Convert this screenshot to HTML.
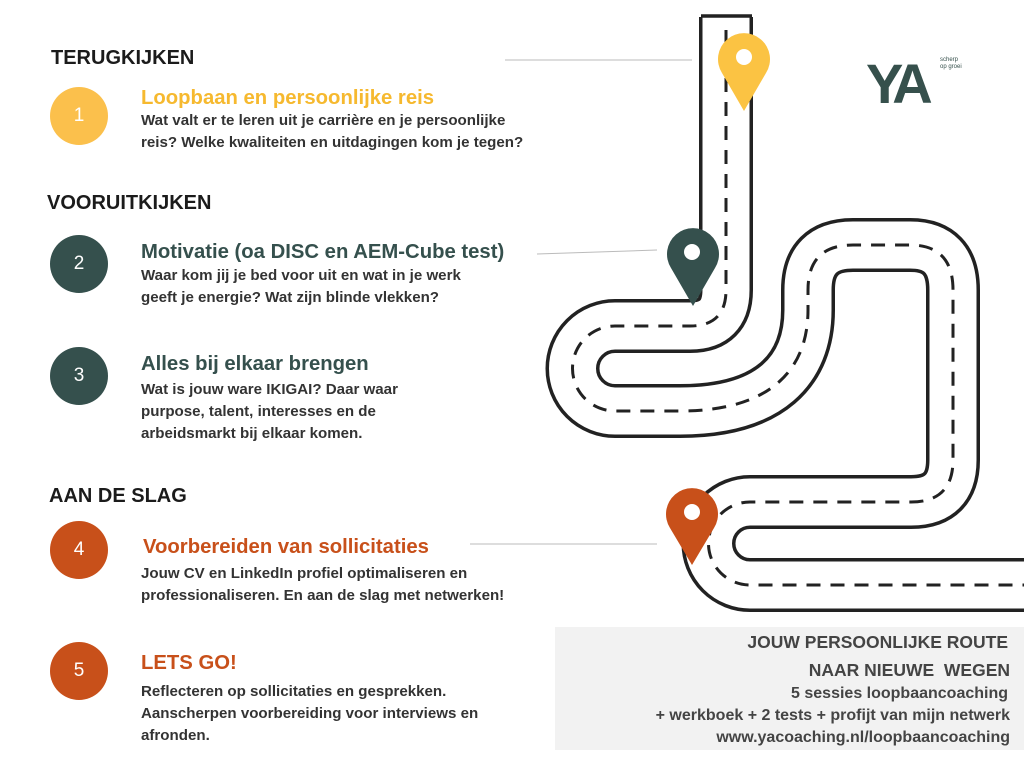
<!DOCTYPE html>
<html><head><meta charset="utf-8"><style>
body{margin:0;width:1024px;height:768px;background:#fff;position:relative;overflow:hidden;font-family:"Liberation Sans",sans-serif}
.a{position:absolute;white-space:nowrap}
.h{font-weight:bold;font-size:20px;color:#1b1b1b}
.c{position:absolute;width:58px;height:58px;border-radius:50%;color:#fff;font-size:19px;text-align:center;line-height:58px}
.t{font-weight:bold;font-size:20.3px}
.b{font-size:15.1px;line-height:22px;color:#333;font-weight:bold;white-space:nowrap}
.r{position:absolute;right:14px;text-align:right;font-weight:bold;color:#444;white-space:nowrap}
</style></head><body>
<svg width="1024" height="768" style="position:absolute;left:0;top:0">
<line x1="505" y1="60" x2="692" y2="60" stroke="#bbb" stroke-width="1"/>
<line x1="537" y1="254" x2="657" y2="250" stroke="#bbb" stroke-width="1"/>
<line x1="470" y1="544" x2="657" y2="544" stroke="#bbb" stroke-width="1"/>
<g fill="none">
<path d="M726,17 L726,290 Q726,326 690,326 L615,326 A42.5,42.5 0 0 0 615,411 L680,411 C770,411 808,370 808,310 L808,290 Q808,245 853,245 L910,245 Q953,245 953,290 L953,460 Q953,502 911,502 L750,502 A41.5,41.5 0 0 0 750,585 L1030,585" stroke="#222" stroke-width="54"/>
<path d="M726,17 L726,290 Q726,326 690,326 L615,326 A42.5,42.5 0 0 0 615,411 L680,411 C770,411 808,370 808,310 L808,290 Q808,245 853,245 L910,245 Q953,245 953,290 L953,460 Q953,502 911,502 L750,502 A41.5,41.5 0 0 0 750,585 L1030,585" stroke="#fff" stroke-width="47"/>
<path d="M726,30 L726,290 Q726,326 690,326 L615,326 A42.5,42.5 0 0 0 615,411 L680,411 C770,411 808,370 808,310 L808,290 Q808,245 853,245 L910,245 Q953,245 953,290 L953,460 Q953,502 911,502 L750,502 A41.5,41.5 0 0 0 750,585 L1030,585" stroke="#222" stroke-width="3" stroke-dasharray="14,10"/>
</g>
<line x1="701" y1="16" x2="752" y2="16" stroke="#222" stroke-width="3.5"/>
<g>
<path d="M744,111 L722,73 A26,26 0 1 1 766,73 Z" fill="#fbc343"/><circle cx="744" cy="57" r="8" fill="#fff"/>
<path d="M693,306 L671,268 A26,26 0 1 1 715,268 Z" fill="#35504d"/><circle cx="692" cy="252" r="8" fill="#fff"/>
<path d="M692,565 L670,528 A26,26 0 1 1 714,528 Z" fill="#c8501a"/><circle cx="692" cy="512" r="8" fill="#fff"/>
</g>
<rect x="555" y="627" width="469" height="123" fill="#f2f2f2"/>
</svg>
<div class="a" style="left:866px;top:54px;font-size:56px;font-weight:bold;color:#36504c;letter-spacing:-6px;line-height:60px">YA</div>
<div class="a" style="left:940px;top:57px;font-size:6px;color:#36504c;line-height:7px">scherp<br>op groei</div>

<div class="a h" style="left:51px;top:47px">TERUGKIJKEN</div>
<div class="c" style="left:50px;top:87px;background:#fbc04c">1</div>
<div class="a t" style="left:141px;top:87px;color:#f6b92f">Loopbaan en persoonlijke reis</div>
<div class="a b" style="left:141px;top:110px">Wat valt er te leren uit je carrière en je persoonlijke<br>reis? Welke kwaliteiten en uitdagingen kom je tegen?</div>

<div class="a h" style="left:47px;top:192px">VOORUITKIJKEN</div>
<div class="c" style="left:50px;top:235px;background:#35504d">2</div>
<div class="a t" style="left:141px;top:241px;color:#35504d">Motivatie (oa DISC en AEM-Cube test)</div>
<div class="a b" style="left:141px;top:265px">Waar kom jij je bed voor uit en wat in je werk<br>geeft je energie? Wat zijn blinde vlekken?</div>

<div class="c" style="left:50px;top:347px;background:#35504d">3</div>
<div class="a t" style="left:141px;top:353px;color:#35504d">Alles bij elkaar brengen</div>
<div class="a b" style="left:141px;top:379px">Wat is jouw ware IKIGAI? Daar waar<br>purpose, talent, interesses en de<br>arbeidsmarkt bij elkaar komen.</div>

<div class="a h" style="left:49px;top:485px">AAN DE SLAG</div>
<div class="c" style="left:50px;top:521px;background:#c8501a">4</div>
<div class="a t" style="left:143px;top:536px;color:#c8501a">Voorbereiden van sollicitaties</div>
<div class="a b" style="left:141px;top:563px">Jouw CV en LinkedIn profiel optimaliseren en<br>professionaliseren. En aan de slag met netwerken!</div>

<div class="c" style="left:50px;top:642px;background:#c8501a">5</div>
<div class="a t" style="left:141px;top:652px;color:#c8501a">LETS GO!</div>
<div class="a b" style="left:141px;top:681px">Reflecteren op sollicitaties en gesprekken.<br>Aanscherpen voorbereiding voor interviews en<br>afronden.</div>

<div class="r" style="top:632px;right:16px;font-size:17.5px">JOUW PERSOONLIJKE ROUTE</div>
<div class="r" style="top:660px;font-size:17.5px">NAAR NIEUWE&nbsp; WEGEN</div>
<div class="r" style="top:685px;font-size:16px;right:16px">5 sessies loopbaancoaching</div>
<div class="r" style="top:707px;font-size:16px">+ werkboek + 2 tests + profijt van mijn netwerk</div>
<div class="r" style="top:729px;font-size:16px">www.yacoaching.nl/loopbaancoaching</div>
</body></html>
